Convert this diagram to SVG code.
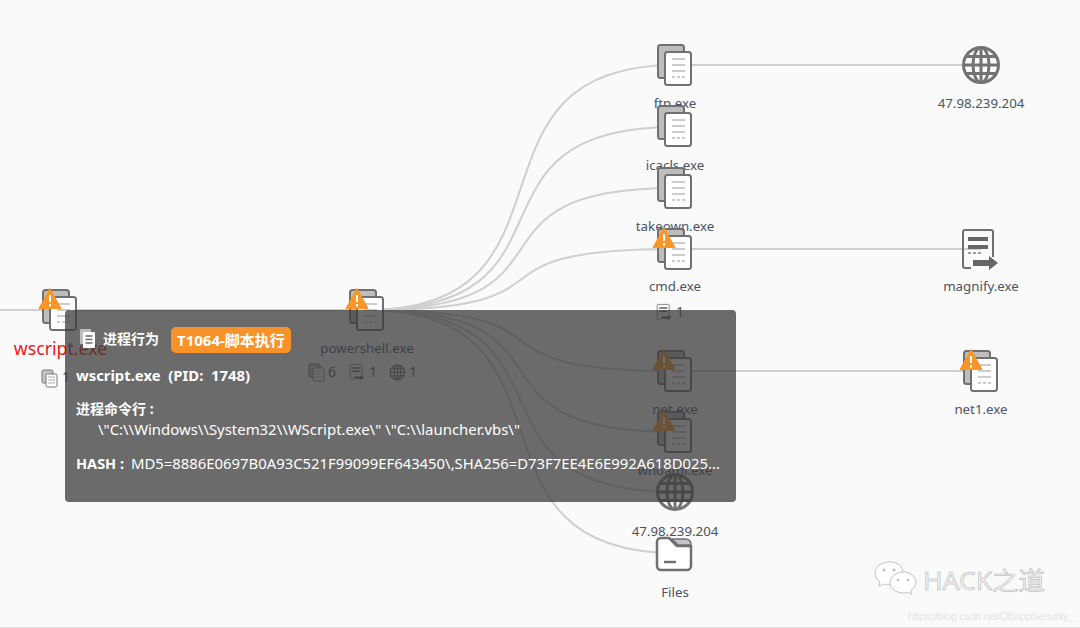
<svg xmlns="http://www.w3.org/2000/svg" xmlns:xlink="http://www.w3.org/1999/xlink" width="1080" height="628" viewBox="0 0 1080 628">
<style>
text{font-family:"Noto Sans","Noto Sans CJK SC",sans-serif;white-space:pre}
.lb{font-size:13.3px;fill:#4d5266;text-anchor:middle}
.st{font-size:14px;fill:#4d5266}
.edge{fill:none;stroke:#cfcfcf;stroke-width:2}
.tb{font-weight:700;fill:#fff;font-size:14.5px}
.tn{fill:#fff;font-size:14.5px}
</style>
<defs>
<symbol id="doc" overflow="visible" viewBox="-30 -30 60 60" width="60" height="60">
<rect x="-17" y="-20" width="26" height="33" rx="2.5" fill="#bdbdbd" stroke="#707070" stroke-width="2"/>
<rect x="-10" y="-13" width="26" height="33" rx="2.5" fill="#fff" stroke="#707070" stroke-width="2"/>
<path d="M-3-6H10M-3 0H10M-3 6H10" stroke="#bcbcbc" stroke-width="1.6" fill="none"/>
<path d="M-3 12H10" stroke="#bcbcbc" stroke-width="1.6" stroke-dasharray="3 2" fill="none"/>
</symbol>
<symbol id="warn" overflow="visible" viewBox="-12 -12 24 24" width="24" height="24">
<path d="M0-10.500L11 9.500H-11Z" fill="#fa9526" stroke="#fa9526" stroke-linejoin="round"/>
<path d="M0-4V3M0 5V7.500" stroke="#fff" stroke-width="2" fill="none"/>
</symbol>
<symbol id="globe" overflow="visible" viewBox="-20 -20 40 40" width="40" height="40">
<g fill="none" stroke="#737373" stroke-width="3">
<circle r="17.500"/><ellipse rx="8" ry="17.500"/>
<path d="M0-17.500V17.500M-17.500 0H17.500M-15-8.500H15M-15 8.500H15"/>
</g>
</symbol>
<symbol id="run" overflow="visible" viewBox="-20 -20 40 40" width="40" height="40">
<path d="M13 8V-17a2 2 0 0 0-2-2H-15a2 2 0 0 0-2 2V17a2 2 0 0 0 2 2H-9" fill="none" stroke="#707070" stroke-width="2"/>
<path d="M-12-10H8M-12-2H8" stroke="#666" stroke-width="4" fill="none"/>
<path d="M-12 4H-9M-7 4H-4M-2 4H1" stroke="#999" stroke-width="2" fill="none"/>
<path d="M-7 11H9V7L18 14L9 21V17H-7Z" fill="#666"/>
</symbol>
<symbol id="mini" overflow="visible" viewBox="-9 -9 18 18" width="18" height="18">
<rect x="-8" y="-8" width="11" height="13" rx="1.500" fill="#c4c4c4" stroke="#777"/>
<rect x="-4" y="-4" width="11" height="13" rx="1.500" fill="#fff" stroke="#777"/>
<path d="M-2-1H5M-2 2H5M-2 5H5" stroke="#aaa"/>
</symbol>
</defs>
<rect width="1080" height="628" fill="#fafafa"/>
<rect y="627" width="1080" height="1" fill="#dedede"/>

<g id="connectors">
<path class="edge" d="M0 310H367"/>
<path class="edge" d="M367 310C593 310 449 65 675 65H981"/>
<path class="edge" d="M367 310C593 310 449 127 675 127"/>
<path class="edge" d="M367 310C593 310 449 188 675 188"/>
<path class="edge" d="M367 310C593 310 449 249 675 249H981"/>
<path class="edge" d="M367 310C593 310 449 371 675 371H981"/>
<path class="edge" d="M367 310C593 310 449 432 675 432"/>
<path class="edge" d="M367 310C593 310 449 492 675 492"/>
<path class="edge" d="M367 310C593 310 449 553 675 553"/>
</g>

<g id="n-wscript">
<use xlink:href="#doc" x="30" y="280"/>
<use xlink:href="#warn" x="38" y="287"/>
<text x="60.500" y="355" style="font-size:17.7px;fill:#f01414;text-anchor:middle">wscript.exe</text>
<use xlink:href="#mini" x="41" y="369"/>
<text x="62" y="382" class="st">1</text>
</g>
<g id="n-powershell">
<use xlink:href="#doc" x="337" y="280"/>
<use xlink:href="#warn" x="345" y="287"/>
<text x="367" y="353" class="lb">powershell.exe</text>
<use xlink:href="#mini" x="308" y="363"/>
<text x="328" y="377" class="st">6</text>
<use xlink:href="#run" transform="translate(349 364) scale(.4)"/>
<text x="369" y="377" class="st">1</text>
<use xlink:href="#globe" transform="translate(389 364) scale(.42)"/>
<text x="409" y="377" class="st">1</text>
</g>
<g id="n-ftp"><use xlink:href="#doc" x="645" y="35"/><text x="675" y="108" class="lb">ftp.exe</text></g>
<g id="n-icacls"><use xlink:href="#doc" x="645" y="96"/><text x="675" y="170" class="lb">icacls.exe</text></g>
<g id="n-takeown"><use xlink:href="#doc" x="645" y="158"/><text x="675" y="231" class="lb">takeown.exe</text></g>
<g id="n-cmd">
<use xlink:href="#doc" x="645" y="219"/><use xlink:href="#warn" x="652" y="226"/>
<text x="675" y="291" class="lb">cmd.exe</text>
<use xlink:href="#run" transform="translate(656 304) scale(.4)"/>
<text x="676" y="317" class="st">1</text>
</g>
<g id="n-net">
<use xlink:href="#doc" x="645" y="341"/><use xlink:href="#warn" x="652" y="348"/>
<text x="675" y="414" class="lb">net.exe</text>
</g>
<g id="n-whoami">
<use xlink:href="#doc" x="645" y="402"/><use xlink:href="#warn" x="652" y="409"/>
<text x="675" y="475" class="lb">whoami.exe</text>
</g>
<g id="n-ip2"><use xlink:href="#globe" x="655" y="472"/><text x="675" y="536" class="lb">47.98.239.204</text></g>
<g id="n-files">
<path d="M661 538H669L677 546H691V566a4 4 0 0 1-4 4H661a4 4 0 0 1-4-4V542a4 4 0 0 1 4-4Z" fill="#fff" stroke="#707070" stroke-width="2.500" stroke-linejoin="round"/>
<path d="M672 539H685C689 539 691 541 691 545H678Z" fill="#c4c4c4" stroke="#707070" stroke-width="1.500" stroke-linejoin="round"/>
<path d="M664 562H676" stroke="#707070" stroke-width="2.500"/>
<text x="675" y="597" class="lb">Files</text>
</g>
<g id="n-ip1"><use xlink:href="#globe" x="961" y="45"/><text x="981" y="108" class="lb">47.98.239.204</text></g>
<g id="n-magnify"><use xlink:href="#run" x="960" y="229"/><text x="981" y="291" class="lb">magnify.exe</text></g>
<g id="n-net1">
<use xlink:href="#doc" x="951" y="341"/><use xlink:href="#warn" x="959" y="348"/>
<text x="981" y="414" class="lb">net1.exe</text>
</g>

<g id="tooltip">
<rect x="65" y="310" width="671" height="192" rx="4" fill="#3b3b3b" fill-opacity=".75"/>
<rect x="80" y="329" width="11" height="15" rx="1" fill="#bdbdbd"/>
<rect x="83" y="332" width="12" height="16" rx="1" fill="#fff"/>
<path d="M85.500 336H92.500M85.500 339.500H92.500M85.500 343H92.500" stroke="#6b6b6b" stroke-width="1.300"/>
<text x="103" y="344" class="tb" style="font-size:14px">进程行为</text>
<rect x="171" y="327" width="120" height="26" rx="5" fill="#f8922a"/>
<text x="177" y="346" class="tb" style="font-size:15px">T1064-脚本执行</text>
<text x="76" y="381" class="tb" textLength="174" lengthAdjust="spacingAndGlyphs" style="font-size:15px">wscript.exe  (PID:  1748)</text>
<text x="76" y="414" class="tb" style="font-size:14px">进程命令行 :</text>
<text x="98" y="435" class="tn" textLength="422" lengthAdjust="spacingAndGlyphs">\"C:\\Windows\\System32\\WScript.exe\" \"C:\\launcher.vbs\"</text>
<text x="76" y="469" class="tb">HASH :</text>
<text x="131" y="469" class="tn" textLength="589" lengthAdjust="spacingAndGlyphs">MD5=8886E0697B0A93C521F99099EF643450\,SHA256=D73F7EE4E6E992A618D025...</text>
</g>

<g id="watermark">
<g fill="#fff" stroke="#c4c4c4" stroke-width="1">
<path d="M889 562c-8 0-14 5-14 11 0 4 2 7 5 9l-1 4 5-2c2 .6 3 .8 5 .8 8 0 14-5 14-12s-6-11-14-11Z"/>
<path d="M903 572c-7 0-13 5-13 10.500s6 10.500 13 10.500c2 0 3-.2 5-.8l4 2-1-4c3-2 5-5 5-8 0-5.500-6-10.500-13-10.500Z"/>
</g>
<g fill="#bdbdbd"><circle cx="884" cy="570" r="1.500"/><circle cx="894" cy="570" r="1.500"/><circle cx="898" cy="580" r="1.300"/><circle cx="908" cy="580" r="1.300"/></g>
<text x="923" y="590" style="font-size:25px;fill:#f2f2f2;stroke:#b0b0b0;stroke-width:.5px" textLength="122" lengthAdjust="spacingAndGlyphs">HACK之道</text>
<text x="908" y="620" style="font-family:'Liberation Sans',sans-serif;font-size:11px;fill:#e6e6e6" textLength="166">https://blog.csdn.net/DBappSecurity_</text>
</g>
</svg>
